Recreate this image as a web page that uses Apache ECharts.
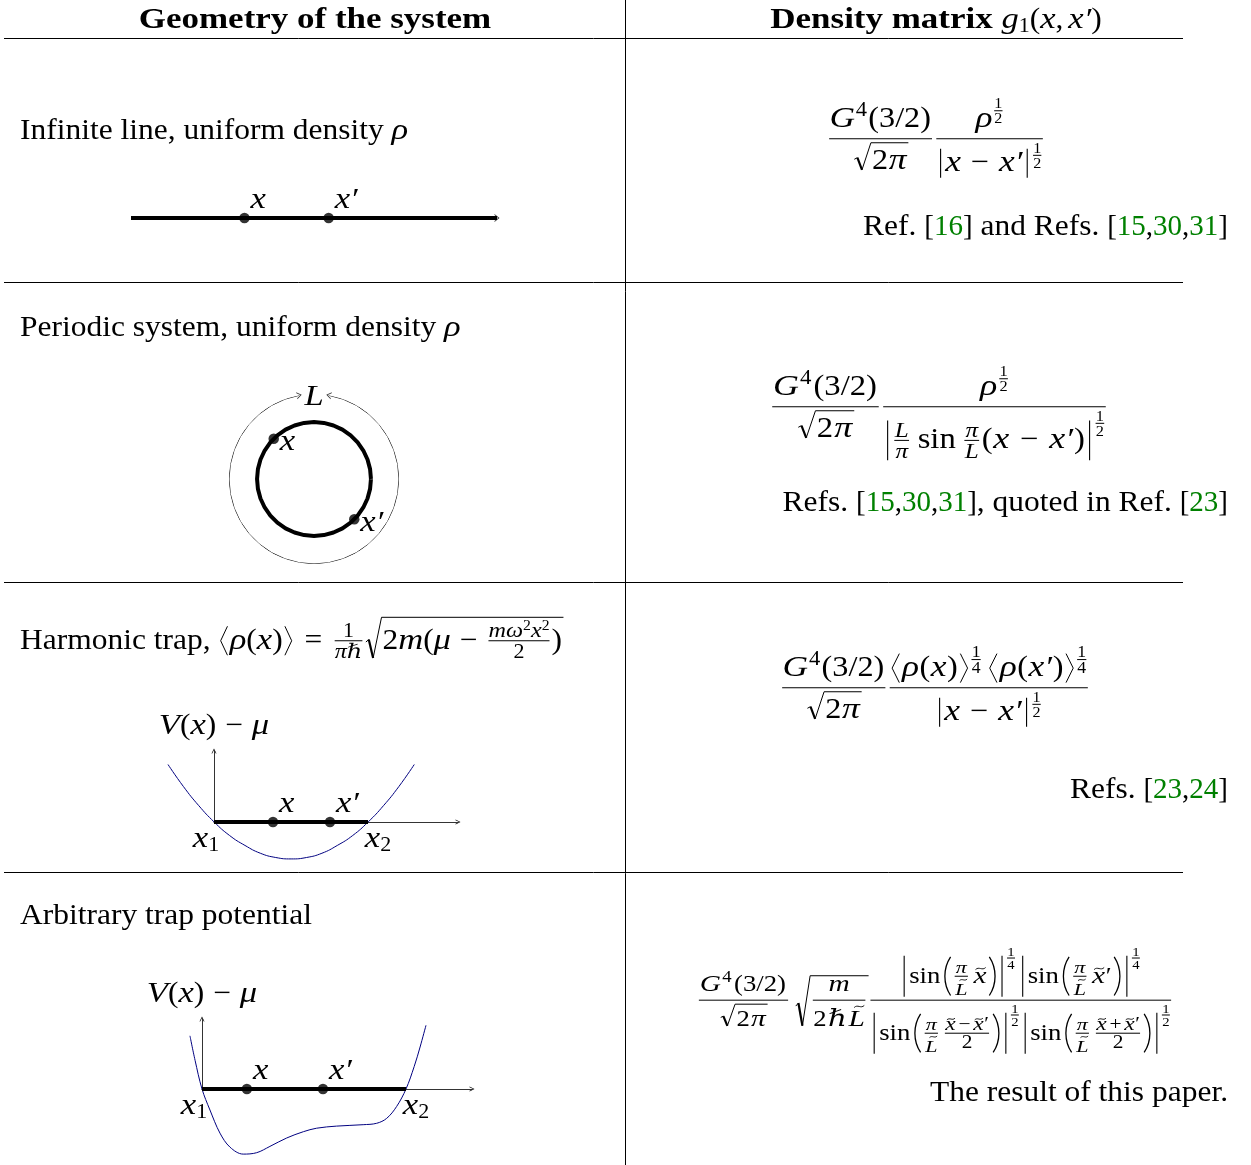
<!DOCTYPE html>
<html>
<head>
<meta charset="utf-8">
<title>One-body density matrix, four geometries</title>
<script src="https://cdn.jsdelivr.net/npm/echarts@6/dist/echarts.min.js"></script>
<style>
  html, body { margin: 0; padding: 0; background: #fff; }
  #main { width: 1251px; height: 1165px; }
</style>
</head>
<body>
<div id="main"></div>
<script>
// ---- values ----

// row 1: infinite line with two marked points
var lineX = [0, 10];
var lineDots = [3.1, 5.4];
var dotNames = ['x', 'x\u2032'];

// row 2: ring, angles in degrees, radius relative to the outer circle
var ringAngles = [0, 10, 20, 30, 40, 50, 60, 70, 80, 90, 100, 110, 120, 130, 140, 150, 160, 170, 180,
  190, 200, 210, 220, 230, 240, 250, 260, 270, 280, 290, 300, 310, 320, 330, 340, 350, 360];
var innerR = 0.67;
var outerR = 1;
var arcAngles = [100, 110, 120, 130, 140, 150, 160, 170, 180, 190, 200, 210, 220, 230, 240, 250, 260,
  270, 280, 290, 300, 310, 320, 330, 340, 350, 360, 10, 20, 30, 40, 50, 60, 70, 80];
var arcTips = [100, 80];
var ringDots = [135, 315];

// row 3: harmonic trap, x1 = 0 and x2 = 1
var trapX = [-0.3, -0.2, -0.1, 0, 0.1, 0.2, 0.3, 0.4, 0.5, 0.6, 0.7, 0.8, 0.9, 1, 1.1, 1.2, 1.3];
var trapV = [0.81, 0.5, 0.23, 0, -0.19, -0.33, -0.44, -0.5, -0.52, -0.5, -0.44, -0.33, -0.19, 0, 0.23, 0.5, 0.81];
var trapEdge = [0, 1];
var trapDots = [0.383, 0.753];

// row 4: arbitrary trap
var arbX = [-0.059, -0.034, 0, 0.039, 0.088, 0.137, 0.202, 0.268, 0.333, 0.415, 0.497, 0.562,
  0.66, 0.79, 0.856, 0.905, 0.954, 1, 1.04, 1.069, 1.098];
var arbV = [0.76, 0.41, 0, -0.3, -0.63, -0.83, -0.93, -0.91, -0.82, -0.7, -0.61, -0.56,
  -0.53, -0.51, -0.49, -0.42, -0.25, 0, 0.32, 0.6, 0.91];
var arbEdge = [0, 1];
var arbDots = [0.22, 0.593];

// texts
var headers = ['Geometry of the system', 'Density matrix '];
var titles = ['Infinite line, uniform density ', 'Periodic system, uniform density ', 'Harmonic trap, ', 'Arbitrary trap potential'];
var refs = [
  ['Ref. ', '[', '16', ']', ' and Refs. ', '[', '15', ',', '30', ',', '31', ']'],
  ['Refs. ', '[', '15', ',', '30', ',', '31', ']', ', quoted in Ref. ', '[', '23', ']'],
  ['Refs. ', '[', '23', ',', '24', ']'],
  ['The result of this paper.']
];

var UP = 'path://M0,10 L5,0 L10,10 L8.6,10 L5,2.8 L1.4,10 Z';
var NAVY = '#000080';

function pairs(xs, ys) { return xs.map(function (x, i) { return [x, ys[i]]; }); }
function onAxis(xs) { return xs.map(function (x) { return [x, 0]; }); }
function ring(r, angles) { return angles.map(function (a) { return [r, a]; }); }

function arrowAxis(grid, max) {
  return {
    type: 'value', gridIndex: grid, min: 0, max: max,
    axisLine: { show: true, onZero: false, symbol: ['none', UP], symbolSize: [7, 5], lineStyle: { color: '#000', width: 0.8 } },
    axisTick: { show: false }, axisLabel: { show: false }, splitLine: { show: false }
  };
}
function hiddenAxis(grid, min, max) { return { type: 'value', gridIndex: grid, min: min, max: max, show: false }; }
function dots(xi, yi, data) {
  return { type: 'scatter', xAxisIndex: xi, yAxisIndex: yi, data: data, symbolSize: 10.5, itemStyle: { color: '#000' }, clip: false, silent: true };
}
function thick(xi, yi, data) {
  return { type: 'line', xAxisIndex: xi, yAxisIndex: yi, data: data, symbol: 'none', lineStyle: { color: '#000', width: 4 }, clip: false, silent: true };
}

var option = {
  animation: false,
  grid: [
    { left: 131, top: 168, width: 366, height: 50, outerBoundsMode: 'none' },
    { left: 214, top: 751, width: 244, height: 71, outerBoundsMode: 'none' },
    { left: 202, top: 1019, width: 270, height: 70, outerBoundsMode: 'none' },
    // same scales as grids 1 and 2, widened to the left so the curves can run past x1
    { left: 168, top: 751, width: 290, height: 71, outerBoundsMode: 'none' },
    { left: 181.6, top: 1019, width: 290.4, height: 70, outerBoundsMode: 'none' }
  ],
  xAxis: [
    hiddenAxis(0, 0, 10),
    arrowAxis(1, 1.584),
    arrowAxis(2, 1.3235),
    hiddenAxis(3, -0.3, 1.584),
    hiddenAxis(4, -0.1, 1.3235)
  ],
  yAxis: [
    hiddenAxis(0, 0, 1),
    arrowAxis(1, 1),
    arrowAxis(2, 1),
    hiddenAxis(3, 0, 1),
    hiddenAxis(4, 0, 1)
  ],
  polar: { center: [314, 479], radius: 85 },
  radiusAxis: { min: 0, max: 1, show: false },
  angleAxis: { min: 0, max: 360, startAngle: 0, clockwise: false, show: false },
  series: [
    thick(0, 0, onAxis(lineX)),
    { type: 'scatter', xAxisIndex: 0, yAxisIndex: 0, data: [{ value: [lineX[1], 0], symbolRotate: -90 }],
      symbol: UP, symbolSize: [8, 5], itemStyle: { color: '#000' }, clip: false, silent: true },
    dots(0, 0, onAxis(lineDots)),
    { type: 'line', coordinateSystem: 'polar', data: ring(innerR, ringAngles), symbol: 'none',
      lineStyle: { color: '#000', width: 4 }, clip: false, silent: true },
    { type: 'line', coordinateSystem: 'polar', data: ring(outerR, arcAngles), symbol: 'none',
      lineStyle: { color: '#000', width: 0.9 }, clip: false, silent: true },
    { type: 'scatter', coordinateSystem: 'polar',
      data: [{ value: [outerR, arcTips[0]], symbolRotate: -80 }, { value: [outerR, arcTips[1]], symbolRotate: 80 }],
      symbol: UP, symbolSize: [7, 5], itemStyle: { color: '#000' }, clip: false, silent: true },
    { type: 'scatter', coordinateSystem: 'polar', data: ring(innerR, ringDots), symbolSize: 10.5,
      itemStyle: { color: '#000' }, clip: false, silent: true },
    { type: 'line', xAxisIndex: 3, yAxisIndex: 3, data: pairs(trapX, trapV), smooth: 0.5, symbol: 'none',
      lineStyle: { color: NAVY, width: 1 }, clip: false, silent: true },
    thick(1, 1, onAxis(trapEdge)),
    dots(1, 1, onAxis(trapDots)),
    { type: 'line', xAxisIndex: 4, yAxisIndex: 4, data: pairs(arbX, arbV), smooth: 0.35, symbol: 'none',
      lineStyle: { color: NAVY, width: 1 }, clip: false, silent: true },
    thick(2, 2, onAxis(arbEdge)),
    dots(2, 2, onAxis(arbDots))
  ]
};

var chart = echarts.init(document.getElementById('main'));
chart.setOption(option);

// ---- small box layout for the formulas ----
var els = [], wids = [];
var INK = '#000', CITE = '#008000';
var FF = '"Liberation Serif", "DejaVu Serif", serif';
var cv = document.createElement('canvas').getContext('2d');
function fontOf(st, z) { return (st === 'i' ? 'italic ' : st === 'b' ? 'bold ' : '') + z.toFixed(2) + 'px ' + FF; }
function rawW(t, st, z) { cv.font = fontOf(st, z); return cv.measureText(t).width; }
var BODY = 29;
// stretch Times-like glyphs towards Computer Modern widths
var SXR = 12.54 * BODY / rawW('Infinite line, uniform density', 'r', BODY);
var SXB = 12.152 * BODY / rawW('Geometry of the system', 'b', BODY);
var SXI = 2.917 * BODY / rawW('xmGL', 'i', BODY);
function sxOf(st) { return st === 'i' ? SXI : st === 'b' ? SXB : st === 'n' ? 1 : SXR; }
var MID = 0.24;

function push(e, w) { els.push(e); wids.push(w || 0); }
function line(x1, y1, x2, y2, lw) {
  push({ type: 'line', silent: true, shape: { x1: x1, y1: y1, x2: x2, y2: y2 }, style: { stroke: INK, lineWidth: lw || 1 } });
}
function poly(pts, lw) {
  push({ type: 'polyline', silent: true, shape: { points: pts }, style: { stroke: INK, lineWidth: lw || 1, fill: null } });
}
function curve(x1, y1, ax, ay, bx, by, x2, y2, lw) {
  push({ type: 'bezierCurve', silent: true,
    shape: { x1: x1, y1: y1, cpx1: ax, cpy1: ay, cpx2: bx, cpy2: by, x2: x2, y2: y2 },
    style: { stroke: INK, lineWidth: lw || 1, fill: null } });
}

function T(t, st, z, col) {
  var w = rawW(t, st, z) * sxOf(st);
  var h = (/[A-Z0-9()\[\]|bdfhiklt\u210f\u2032]/.test(t) ? 0.7 : 0.45) * z;
  var d = (/[()\[\]|gjpqy\u03c1\u03bc,]/.test(t) ? 0.22 : 0) * z;
  return { w: w, h: h, d: d, draw: function (x, b) {
    push({ type: 'text', x: x, y: b - MID * z, scaleX: sxOf(st), silent: true,
      style: { text: t, font: fontOf(st, z), fill: col || INK, align: 'left', verticalAlign: 'middle' } }, w);
  } };
}
function I(t, z) { return T(t, 'i', z); }
function R(t, z, c) { return T(t, 'r', z, c); }
function H() {
  var a = [].slice.call(arguments), w = 0, h = 0, d = 0;
  a.forEach(function (q) { w += q.w; h = Math.max(h, q.h); d = Math.max(d, q.d); });
  return { w: w, h: h, d: d, draw: function (x, b) { a.forEach(function (q) { q.draw(x, b); x += q.w; }); } };
}
function SP(w) { return { w: w, h: 0, d: 0, draw: function () {} }; }
function raise(q, r) {
  return { w: q.w, h: q.h + r, d: Math.max(0, q.d - r), draw: function (x, b) { q.draw(x, b - r); } };
}
function OP(ch, z) {
  var g = R(ch, z), w = 0.778 * z;
  return { w: w, h: g.h, d: g.d, draw: function (x, b) { g.draw(x + (w - g.w) / 2, b); } };
}
function bin(ch, z) { return H(SP(0.222 * z), OP(ch, z), SP(0.222 * z)); }
function paren(q, z) { return H(R('(', z), q, R(')', z)); }

function frac(num, den, z, disp) {
  var t = 1, ax = 0.25 * z, u, v, c;
  if (disp) { u = 0.677 * z; v = 0.686 * z; c = 3 * t; } else { u = 0.394 * z; v = 0.345 * z; c = t; }
  if (u - num.d - (ax + t / 2) < c) u = ax + t / 2 + c + num.d;
  if (ax - t / 2 - (den.h - v) < c) v = den.h - ax + t / 2 + c;
  var nd = 0.07 * z, bw = Math.max(num.w, den.w), w = bw + 2 * nd;
  return { w: w, h: u + num.h, d: v + den.d, draw: function (x, b) {
    num.draw(x + nd + (bw - num.w) / 2, b - u);
    den.draw(x + nd + (bw - den.w) / 2, b + v);
    line(x + nd, b - ax, x + nd + bw, b - ax, t);
  } };
}
function root(q, z, disp) {
  var t = 1, c = disp ? t + 0.43 * z / 4 : 1.25 * t;
  var need = q.h + q.d + c + t, hs = Math.max(need, 0.95 * z);
  c += (hs - need) / 2;
  var sw = 0.62 * z, top = q.h + c + t, bot = hs - top;
  return { w: sw + q.w + 0.05 * z, h: top, d: Math.max(q.d, bot), draw: function (x, b) {
    var yT = b - top + t / 2, yB = b + bot;
    poly([[x + 0.05 * z, yT + 0.6 * hs], [x + 0.15 * z, yT + 0.54 * hs]], 1);
    poly([[x + 0.15 * z, yT + 0.54 * hs], [x + 0.3 * z, yB]], 2.2);
    poly([[x + 0.3 * z, yB], [x + sw - 0.03 * z, yT]], 1);
    line(x + sw - 0.03 * z, yT, x + sw + q.w + 0.05 * z, yT, t);
    q.draw(x + sw, b);
  } };
}
function delim(c, x, w, top, bot) {
  var m = (top + bot) / 2, hh = bot - top;
  if (c === '|') line(x + w / 2, top, x + w / 2, bot, 1.1);
  else if (c === '(') curve(x + 0.8 * w, top, x + 0.12 * w, top + 0.3 * hh, x + 0.12 * w, bot - 0.3 * hh, x + 0.8 * w, bot, 1.3);
  else if (c === ')') curve(x + 0.2 * w, top, x + 0.88 * w, top + 0.3 * hh, x + 0.88 * w, bot - 0.3 * hh, x + 0.2 * w, bot, 1.3);
  else if (c === '<') poly([[x + 0.8 * w, top], [x + 0.2 * w, m], [x + 0.8 * w, bot]], 1);
  else if (c === '>') poly([[x + 0.2 * w, top], [x + 0.8 * w, m], [x + 0.2 * w, bot]], 1);
}
function lr(l, q, r, z, big) {
  var ax = 0.25 * z;
  var hf = big ? Math.max(q.h - ax, q.d + ax) + 0.05 * z : 0.5 * z;
  hf = Math.max(hf, 0.5 * z);
  function wd(ch) { return ch === '|' ? 0.28 * z : (ch === '(' || ch === ')') ? 0.42 * z : 0.39 * z; }
  var wl = wd(l), wr = wd(r);
  return { w: wl + q.w + wr, h: Math.max(q.h, ax + hf), d: Math.max(q.d, hf - ax), draw: function (x, b) {
    var top = b - ax - hf, bot = b - ax + hf;
    delim(l, x, wl, top, bot);
    q.draw(x + wl, b);
    delim(r, x + wl + q.w, wr, top, bot);
  } };
}
// superscript fraction n/d; mode 'box' for \right delimiters, 'cramp' for denominators
function supF(base, z, n, d, mode, dig) {
  var k = (dig || 0.5) * z;
  var e = frac(R(n, k), R(d, k), 0.7 * z, false);
  var r = Math.max(mode === 'cramp' ? 0.289 * z : 0.363 * z, e.d + 0.108 * z);
  if (mode === 'box') r = Math.max(r, base.h - 0.27 * z);
  return H(base, raise(e, r));
}
function tilde(q, z, sk) {
  return { w: q.w, h: q.h + 0.25 * z, d: q.d, draw: function (x, b) {
    q.draw(x, b);
    var cx = x + q.w / 2 + sk * z, y = b - q.h - 0.13 * z, hw = 0.19 * z, a = 0.045 * z;
    curve(cx - hw, y + a, cx - hw * 0.3, y - 2.4 * a, cx + hw * 0.3, y + 2.4 * a, cx + hw, y - a, 0.9);
  } };
}
function centerAt(q, cx, b) { q.draw(cx - q.w / 2, b); }
function rightAt(q, rx, b) { q.draw(rx - q.w, b); }
// lay a formula out between two x limits: spacing takes most of the stretch, glyphs a little
function place(q, left, right, b) {
  var i0 = els.length, k = (right - left) / q.w, kg = 1 + (k - 1) * 0.4;
  q.draw(left, b);
  function mx(x) { return left + (x - left) * k; }
  for (var i = i0; i < els.length; i++) {
    var e = els[i], sh = e.shape;
    if (e.type === 'text') { var c = mx(e.x + wids[i] / 2); e.scaleX *= kg; e.x = c - wids[i] * kg / 2; }
    else if (e.type === 'line') { sh.x1 = mx(sh.x1); sh.x2 = mx(sh.x2); }
    else if (e.type === 'polyline') { sh.points = sh.points.map(function (p) { return [mx(p[0]), p[1]]; }); }
    else if (e.type === 'bezierCurve') { sh.x1 = mx(sh.x1); sh.x2 = mx(sh.x2); sh.cpx1 = mx(sh.cpx1); sh.cpx2 = mx(sh.cpx2); }
  }
}

var s = BODY, sc = 0.7 * s, ss = 0.5 * s;
function G43(z) { return H(I('G', z), raise(R('4', 0.7 * z), 0.363 * z), R('(3/2)', z)); }
function leftFrac(z) { return frac(G43(z), root(H(R('2', z), I('\u03c0', z)), z, true), z, true); }
function xmx(z) { return H(I('x', z), bin('\u2212', z), I('x\u2032', z)); }
function rhoHalf() { return supF(I('\u03c1', s), s, '1', '2'); }
function absHalf() { return supF(lr('|', xmx(s), '|', s, false), s, '1', '2', 'cramp'); }
function angleQ(arg) { return supF(lr('<', H(I('\u03c1', s), paren(I(arg, s), s)), '>', s, false), s, '1', '4', '', 0.55); }

// table rules
line(625.5, 0, 625.5, 1165, 1);
[38.5, 282.5, 582.5, 872.5].forEach(function (y) { line(4, y, 1183, y, 1); });

// header
centerAt(T(headers[0], 'b', s), 315, 27);
centerAt(H(T(headers[1], 'b', s), I('g', s), raise(R('1', sc), -0.15 * s),
  paren(H(I('x', s), R(',', s), SP(0.167 * s), I('x\u2032', s)), s)), 936, 27);

// left column titles
H(R(titles[0], s), I('\u03c1', s)).draw(20, 138);
H(R(titles[1], s), I('\u03c1', s)).draw(20, 335);
H(R(titles[2], s), lr('<', H(I('\u03c1', s), paren(I('x', s), s)), '>', s, false), SP(0.278 * s), OP('=', s), SP(0.278 * s),
  frac(R('1', sc), H(I('\u03c0', sc), I('\u210f', sc)), s, false),
  root(H(R('2', s), I('m', s), R('(', s), I('\u03bc', s), bin('\u2212', s),
    frac(H(I('m', sc), I('\u03c9', sc), raise(R('2', ss), 0.363 * sc), I('x', sc), raise(R('2', ss), 0.363 * sc)), R('2', sc), s, false),
    R(')', s)), s, false)).draw(20, 648);
R(titles[3], s).draw(20, 923);

// right column formulas
place(H(leftFrac(s), frac(rhoHalf(), absHalf(), s, true)), 827, 1045, 146);
place(H(leftFrac(s), frac(rhoHalf(),
  supF(lr('|', H(frac(I('L', sc), I('\u03c0', sc), s, false), SP(0.167 * s), R('sin', s), SP(0.167 * s),
    frac(I('\u03c0', sc), I('L', sc), s, false), paren(xmx(s), s)), '|', s, true), s, '1', '2', 'box'), s, true)), 770, 1108, 414);
place(H(leftFrac(s), frac(H(angleQ('x'), SP(0.167 * s), angleQ('x\u2032')), absHalf(), s, true)), 780, 1090, 695);

var s4 = 23.3, c4 = 0.75 * s4, h4 = 0.8 * s4;
function Lt(z) { return tilde(I('L', z), z, 0.1); }
function xt(z) { return tilde(I('x', z), z, 0.02); }
function xtp(z) { return H(xt(z), R('\u2032', z)); }
function piL() { return frac(I('\u03c0', c4), Lt(c4), s4, false); }
function sinAbs(inner, n, d) {
  return supF(lr('|', H(R('sin', s4), lr('(', inner, ')', s4, true)), '|', s4, true), s4, n, d, 'box', 0.55);
}
function halfArg(op) { return frac(H(xt(h4), OP(op, h4), xtp(h4)), R('2', h4), s4, false); }
var numC = H(sinAbs(H(piL(), SP(0.12 * s4), xt(s4)), '1', '4'), SP(0.1 * s4), sinAbs(H(piL(), SP(0.12 * s4), xtp(s4)), '1', '4'));
var denC = H(sinAbs(H(piL(), SP(0.12 * s4), halfArg('\u2212')), '1', '2'), SP(0.05 * s4), sinAbs(H(piL(), SP(0.12 * s4), halfArg('+')), '1', '2'));
place(H(leftFrac(s4), SP(0.167 * s4),
  root(frac(I('m', s4), H(R('2', s4), I('\u210f', s4), Lt(s4)), s4, true), s4, true),
  frac(numC, denC, s4, true)), 697, 1173, 1006);

// reference lines
function refBox(parts) {
  return H.apply(null, parts.map(function (p) {
    if (/^\d+$/.test(p)) return T(p, 'n', s, CITE);
    if (p === '[' || p === ']' || p === ',') return T(p, 'n', s);
    return R(p, s);
  }));
}
[234, 510, 797, 1100].forEach(function (b, i) { rightAt(refBox(refs[i]), 1228, b); });

// labels tied to the plotted marks
function px(si, v) { return chart.convertToPixel({ seriesIndex: si }, v); }
lineDots.forEach(function (v, i) { var p = px(2, [v, 0]); I(dotNames[i], s).draw(p[0] + 6, p[1] - 11); });
ringDots.forEach(function (a, i) { var p = px(6, [innerR, a]); I(dotNames[i], s).draw(p[0] + 6, p[1] + 11); });
(function () { var p = px(4, [outerR, 90]); centerAt(I('L', s), p[0], p[1] + 10); })();

function sub1(k) { return H(I('x', s), raise(R(k, sc), -0.15 * s)); }
function vLabel() { return H(I('V', s), paren(I('x', s), s), bin('\u2212', s), I('\u03bc', s)); }
[[8, 9, trapEdge, trapDots], [11, 12, arbEdge, arbDots]].forEach(function (g) {
  g[3].forEach(function (v, i) { var p = px(g[1], [v, 0]); I(dotNames[i], s).draw(p[0] + 6, p[1] - 11); });
  var a = px(g[0], [g[2][0], 0]), b = px(g[0], [g[2][1], 0]), top = px(g[0], [0, 1]);
  centerAt(sub1('1'), a[0] - 8, a[1] + 24);
  centerAt(sub1('2'), b[0] + 10, b[1] + 24);
  centerAt(vLabel(), top[0], top[1] - 18);
});

chart.setOption({ graphic: { elements: els } });
</script>
</body>
</html>
